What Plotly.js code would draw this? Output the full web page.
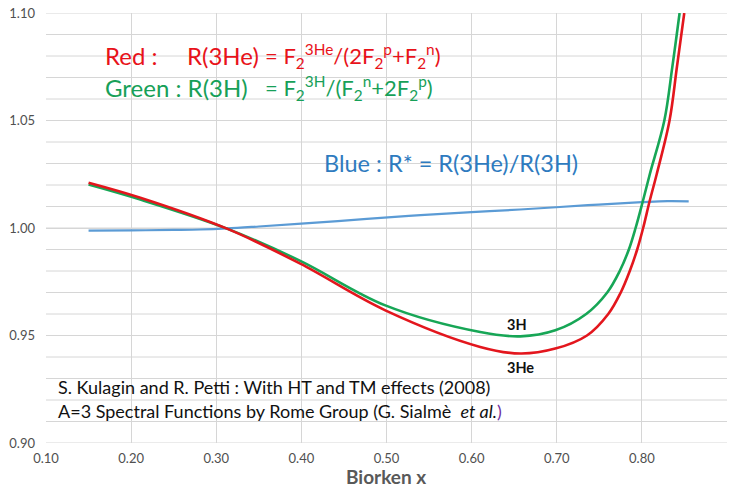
<!DOCTYPE html>
<html>
<head>
<meta charset="utf-8">
<script src="https://cdn.plot.ly/plotly-3.0.1.min.js"></script>
<style>html,body{margin:0;padding:0;background:#fff;}#chart{width:740px;height:484px;}</style>
</head>
<body>
<div id="chart"></div>
<script>
// Red: R(3He)
const redX = [0.150, 0.2108, 0.3126, 0.3987, 0.4986, 0.6101, 0.6572, 0.6983, 0.7355, 0.7605, 0.7752, 0.7858, 0.7945, 0.8015, 0.8090, 0.8174, 0.8325, 0.8412, 0.8498];
const redY = [1.0211, 1.0141, 0.9997, 0.9834, 0.9617, 0.9447, 0.9416, 0.9439, 0.9500, 0.9600, 0.9700, 0.9800, 0.9900, 1.0000, 1.0123, 1.0250, 1.0500, 1.0750, 1.1000];
// Green: R(3H)
const greenX = [0.150, 0.2108, 0.3126, 0.3987, 0.4986, 0.6101, 0.6572, 0.6983, 0.7346, 0.7593, 0.7740, 0.7847, 0.7926, 0.8005, 0.8093, 0.8264, 0.8357, 0.8443];
const greenY = [1.0202, 1.0132, 0.9997, 0.9847, 0.9640, 0.9516, 0.9496, 0.9524, 0.9600, 0.9700, 0.9800, 0.9900, 1.0000, 1.0115, 1.0250, 1.0500, 1.0747, 1.1000];
// Blue: R* = R(3He)/R(3H)
const blueX = [0.15, 0.20, 0.25, 0.2815, 0.3127, 0.35, 0.40, 0.477, 0.54, 0.60, 0.657, 0.7366, 0.80, 0.83, 0.855];
const blueY = [0.9988, 0.9989, 0.9991, 0.9993, 0.9998, 1.0007, 1.0020, 1.0042, 1.0060, 1.0074, 1.0086, 1.0106, 1.0120, 1.0125, 1.0124];

const xTicks = [0.10, 0.20, 0.30, 0.40, 0.50, 0.60, 0.70, 0.80, 0.90];
const xTickLabels = ['0.10', '0.20', '0.30', '0.40', '0.50', '0.60', '0.70', '0.80', '0.90'];
// y axis: labelled ticks every 0.05, gridlines every 0.01
const yTicks = [0.90, 0.95, 1.00, 1.05, 1.10];
const yTickLabels = ['0.90', '0.95', '1.00', '1.05', '1.10'];
const yGridStep = 0.01;

const FONT = 'Lato, "Open Sans", sans-serif';
const RED = '#e3161d', GREEN = '#17a656', BLUE = '#5b9bd5';
const RED_T = '#e8121a', GREEN_T = '#17a058', BLUE_T = '#2e7bbf';
const GRID = '#d6d6d6';

// plot area in pixels (for annotation placement)
const L = 45.7, R = 727, T = 12.7, B = 442.7;
const px = v => (v - L) / (R - L);
const py = v => (B - v) / (B - T);

// horizontal gridlines every 0.01, drawn as a grid trace beneath the curves
const yMin = yTicks[0], yMax = yTicks[yTicks.length - 1];
const nGrid = Math.round((yMax - yMin) / yGridStep);
const gridX = [], gridY = [];
for (let i = 0; i <= nGrid; i++) {
  const v = +(yMin + i * yGridStep).toFixed(2);
  gridX.push(xTicks[0], xTicks[xTicks.length - 1], null);
  gridY.push(v, v, null);
}

const traces = [
  {x: gridX, y: gridY, mode: 'lines', line: {color: GRID, width: 1}, hoverinfo: 'none', connectgaps: false, cliponaxis: false},
  {x: blueX, y: blueY, mode: 'lines', line: {color: BLUE, width: 2.2, shape: 'spline', smoothing: 1}, hoverinfo: 'none'},
  {x: greenX, y: greenY, mode: 'lines', line: {color: GREEN, width: 2.6, shape: 'spline', smoothing: 1}, hoverinfo: 'none'},
  {x: redX, y: redY, mode: 'lines', line: {color: RED, width: 2.6, shape: 'spline', smoothing: 1}, hoverinfo: 'none'}
];

const NB = '\u00A0';
function ann(text, x, y, color, size, extra) {
  return Object.assign({text: text, xref: 'paper', yref: 'paper', x: px(x), y: py(y),
    xanchor: 'left', yanchor: 'middle', showarrow: false,
    font: {family: FONT, size: size, color: color}}, extra || {});
}

const layout = {
  width: 740, height: 484,
  margin: {l: L, r: 740 - R, t: T, b: 484 - B, pad: 0},
  paper_bgcolor: '#ffffff', plot_bgcolor: 'rgba(0,0,0,0)',
  showlegend: false,
  font: {family: FONT},
  xaxis: {
    range: [xTicks[0], xTicks[xTicks.length - 1]], tickmode: 'array', tickvals: xTicks, ticktext: xTickLabels,
    showgrid: true, gridcolor: GRID, gridwidth: 1, zeroline: false, showline: false,
    ticks: '', ticklabelstandoff: 6,
    tickfont: {family: FONT, size: 13, color: '#505050'}
  },
  yaxis: {
    range: [yMin, yMax], tickmode: 'array', tickvals: yTicks, ticktext: yTickLabels,
    showgrid: true, gridcolor: GRID, gridwidth: 1, zeroline: false, showline: false,
    ticks: '', ticklabelstandoff: 10,
    tickfont: {family: FONT, size: 13, color: '#505050'}
  },
  annotations: [
    ann('Red :', 103, 55, RED_T, 24),
    ann('R(3He)', 185, 55, RED_T, 24),
    ann('= F<sub>2</sub><sup>3He</sup>/(2F<sub>2</sub><sup>p</sup>+F<sub>2</sub><sup>n</sup>)', 263, 56, RED_T, 22),
    ann('Green : R(3H)', 103, 87, GREEN_T, 24),
    ann('= F<sub>2</sub><sup>3H</sup>/(F<sub>2</sub><sup>n</sup>+2F<sub>2</sub><sup>p</sup>)', 263, 88, GREEN_T, 22),
    ann('Blue : R* = R(3He)/R(3H)', 322, 163, BLUE_T, 23.5),
    Object.assign(ann('<b>3H</b>', 517, 324, '#111111', 14.5), {xanchor: 'center'}),
    Object.assign(ann('<b>3He</b>', 520, 367, '#111111', 14.5), {xanchor: 'center'}),
    ann('S. Kulagin and R. Petti : With HT and TM effects (2008)', 56, 387, '#111111', 18),
    ann('A=3 Spectral Functions by Rome Group (G. Sialmè' + NB + NB + '<i>et al.</i><span style="color:#7030a0">)</span>', 56, 411, '#111111', 18),
    Object.assign(ann('<b>Bjorken x</b>', 386.3, 476, '#595959', 19), {xanchor: 'center'})
  ]
};

Plotly.newPlot('chart', traces, layout, {staticPlot: true, displayModeBar: false});
</script>
</body>
</html>
